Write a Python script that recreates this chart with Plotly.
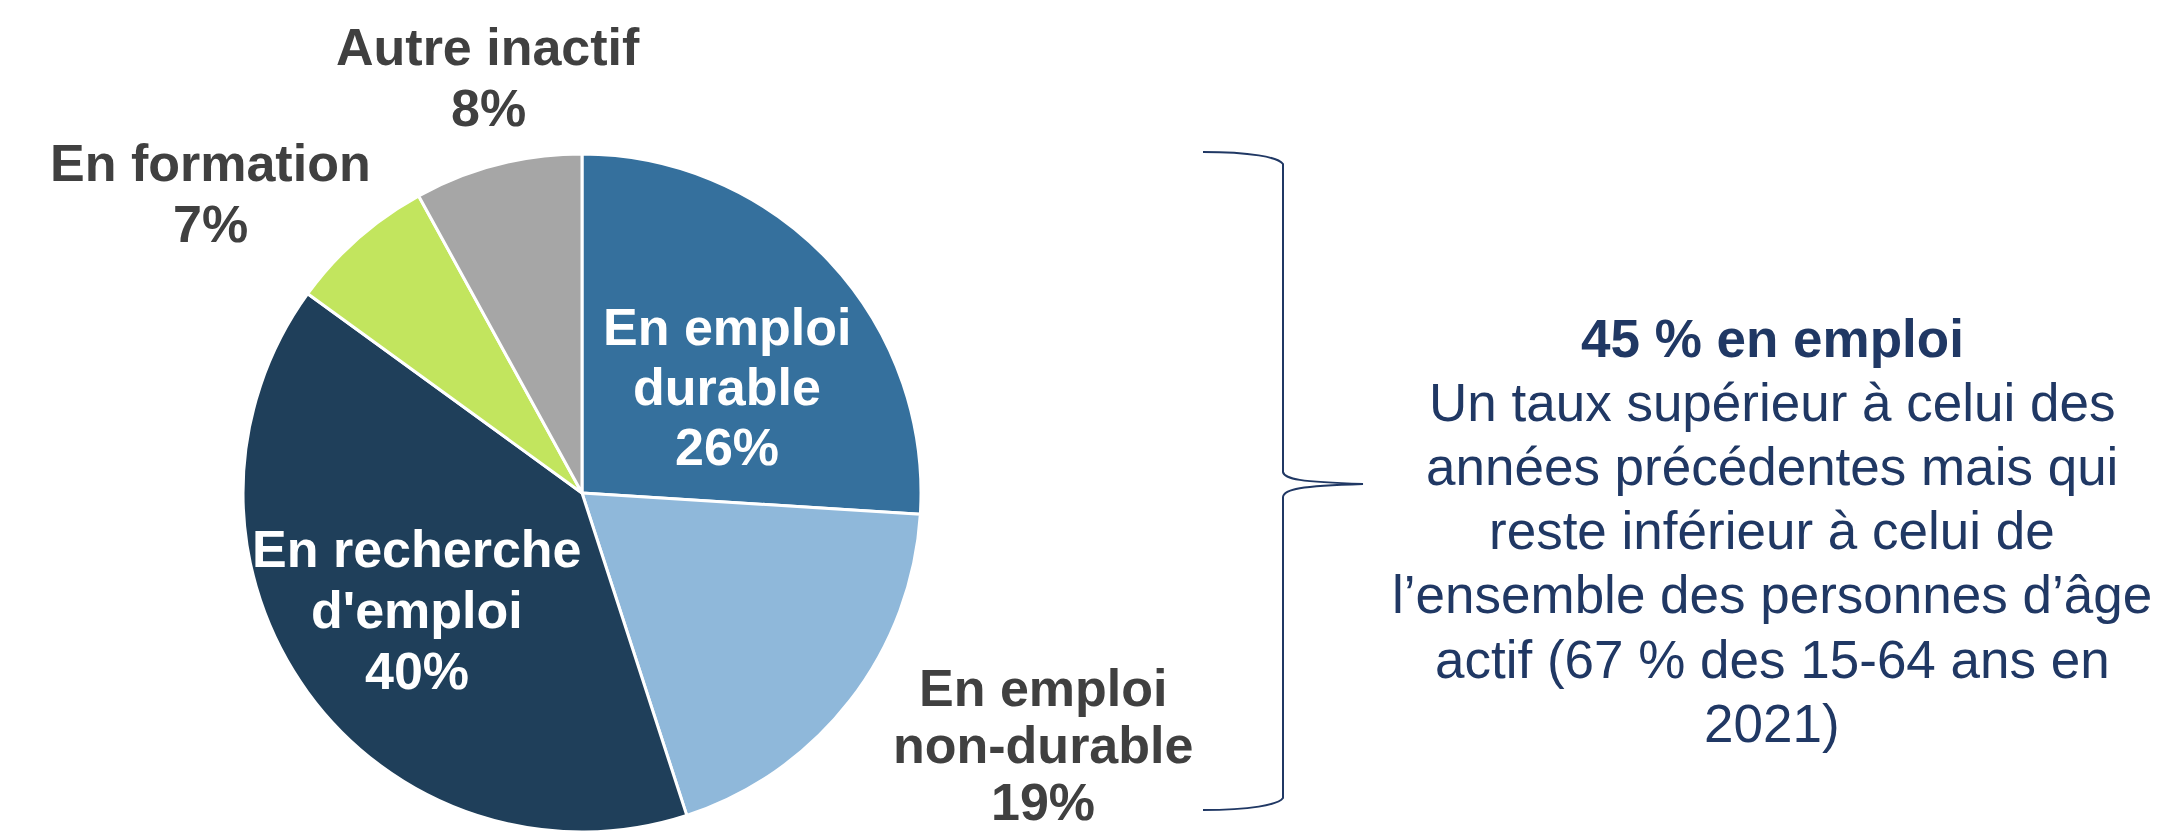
import plotly.graph_objects as go

# ---- data ----
categories = ["En emploi durable", "En emploi non-durable", "En recherche d'emploi",
              "En formation", "Autre inactif"]
label_lines = [["En emploi", "durable"], ["En emploi", "non-durable"],
               ["En recherche", "d'emploi"], ["En formation"], ["Autre inactif"]]
values = [26, 19, 40, 7, 8]
colors = ["#35709D", "#8FB8DA", "#1F3F5A", "#C2E55E", "#A6A6A6"]
text_colors = ["#FFFFFF", "#404040", "#FFFFFF", "#404040", "#404040"]

note_title = "45 % en emploi"
note_lines = ["Un taux supérieur à celui des",
              "années précédentes mais qui",
              "reste inférieur à celui de",
              "l’ensemble des personnes d’âge",
              "actif (67 % des 15-64 ans en",
              "2021)"]

# ---- layout helpers (pixel space) ----
W, H = 2163, 833
# first-line centre and line step of each slice label
label_pos = [(727, 327, 60), (1043, 688, 57), (417, 549, 61), (210, 163, 61), (488, 47, 61)]
FONT = "Arial, Liberation Sans, sans-serif"
NAVY = "#203864"

fig = go.Figure()
fig.add_trace(go.Pie(
    labels=categories, values=values, sort=False, direction="clockwise", rotation=0,
    marker=dict(colors=colors, line=dict(color="white", width=3)),
    textinfo="none", hoverinfo="label+percent", showlegend=False,
    domain=dict(x=[243 / W, 921 / W], y=[1 / H, 679 / H]),
))

annotations = []
for lines, v, tc, (x0, y0, step) in zip(label_lines, values, text_colors, label_pos):
    for k, t in enumerate(lines + [f"{v}%"]):
        annotations.append(dict(x=x0, y=y0 + k * step, xref="x", yref="y",
                                text=f"<b>{t}</b>", showarrow=False,
                                xanchor="center", yanchor="middle",
                                font=dict(family=FONT, size=52, color=tc)))

NX, NY0, NL = 1772, 338, 64.2
annotations.append(dict(x=NX, y=NY0, xref="x", yref="y", text=f"<b>{note_title}</b>",
                        showarrow=False, xanchor="center", yanchor="middle",
                        font=dict(family=FONT, size=53, color=NAVY)))
for k, t in enumerate(note_lines):
    annotations.append(dict(x=NX, y=NY0 + (k + 1) * NL, xref="x", yref="y", text=t,
                            showarrow=False, xanchor="center", yanchor="middle",
                            font=dict(family=FONT, size=53, color=NAVY)))

brace = ("M 1203,152 C 1250,152 1278,157 1283,164 L 1283,472 "
         "C 1284,479 1300,482 1363,484 C 1300,486 1284,489 1283,497 "
         "L 1283,798 C 1278,805 1250,810 1203,810")

fig.update_layout(
    width=W, height=H, margin=dict(l=0, r=0, t=0, b=0),
    paper_bgcolor="white", plot_bgcolor="rgba(0,0,0,0)",
    xaxis=dict(range=[0, W], visible=False, fixedrange=True, domain=[0, 1]),
    yaxis=dict(range=[H, 0], visible=False, fixedrange=True, domain=[0, 1]),
    annotations=annotations,
    shapes=[dict(type="path", path=brace, xref="x", yref="y",
                 line=dict(color=NAVY, width=2))],
)

fig.write_html("out.html", config={"displayModeBar": False},
               post_script="document.body.style.margin='0';document.body.style.overflow='hidden';")
